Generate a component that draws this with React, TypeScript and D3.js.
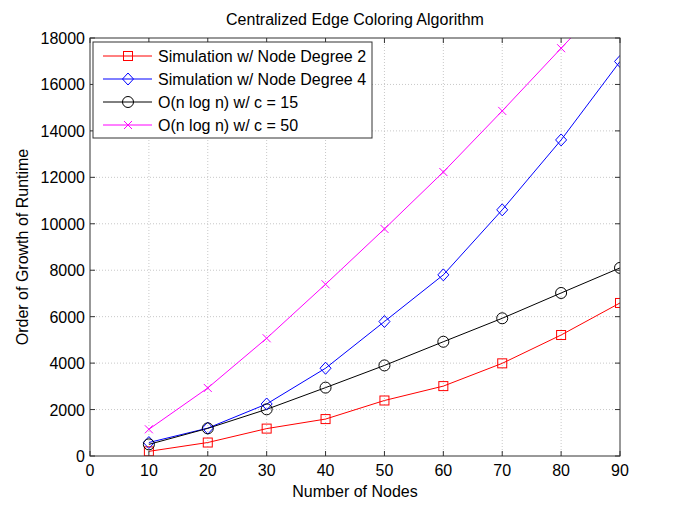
import React from "react";
import * as d3 from "d3";

const nodes = [10, 20, 30, 40, 50, 60, 70, 80, 90];
const simDegree2 = [200, 580, 1180, 1590, 2390, 3010, 3990, 5210, 6590];
const simDegree4 = [580, 1200, 2240, 3780, 5790, 7800, 10600, 13610, 16990];
const nlognC15 = [500, 1190, 2010, 2945, 3900, 4920, 5930, 7020, 8100];
const nlognC50 = [1150, 2930, 5070, 7395, 9780, 12230, 14860, 17560, 20250];

const xTicks = [0, 10, 20, 30, 40, 50, 60, 70, 80, 90];
const yTicks = [0, 2000, 4000, 6000, 8000, 10000, 12000, 14000, 16000, 18000];

const seriesNames = [
  "Simulation w/ Node Degree 2",
  "Simulation w/ Node Degree 4",
  "O(n log n) w/ c = 15",
  "O(n log n) w/ c = 50",
];

const title = "Centralized Edge Coloring Algorithm";
const xLabel = "Number of Nodes";
const yLabel = "Order of Growth of Runtime";

const W = 685;
const H = 513;
const M = { left: 90, right: 620, top: 38, bottom: 456 };
const FONT = "'Liberation Sans', Arial, Helvetica, sans-serif";

type Series = { name: string; values: number[]; color: string; marker: string };

const series: Series[] = [
  { name: seriesNames[0], values: simDegree2, color: "#ff0000", marker: "square" },
  { name: seriesNames[1], values: simDegree4, color: "#0000ff", marker: "diamond" },
  { name: seriesNames[2], values: nlognC15, color: "#000000", marker: "circle" },
  { name: seriesNames[3], values: nlognC50, color: "#ff00ff", marker: "cross" },
];

function Marker({ kind, x, y, color }: { kind: string; x: number; y: number; color: string }) {
  if (kind === "square")
    return <rect x={x - 4.5} y={y - 4.5} width={9} height={9} fill="none" stroke={color} strokeWidth={1} />;
  if (kind === "diamond")
    return (
      <path
        d={`M${x},${y - 6}L${x + 5.5},${y}L${x},${y + 6}L${x - 5.5},${y}Z`}
        fill="none"
        stroke={color}
        strokeWidth={1}
      />
    );
  if (kind === "circle") return <circle cx={x} cy={y} r={5.5} fill="none" stroke={color} strokeWidth={1} />;
  return (
    <path
      d={`M${x - 4},${y - 4}L${x + 4},${y + 4}M${x - 4},${y + 4}L${x + 4},${y - 4}`}
      stroke={color}
      strokeWidth={1}
    />
  );
}

export default function App() {
  const x = d3.scaleLinear().domain([0, 90]).range([M.left, M.right]);
  const y = d3.scaleLinear().domain([0, 18000]).range([M.bottom, M.top]);
  const line = d3
    .line<number>()
    .x((_, i) => x(nodes[i]))
    .y((d) => y(d));

  const tickLen = 5;
  const legend = { x: 93, y: 42, w: 279, h: 96 };

  return (
    <div style={{ position: "absolute", left: 0, top: 0 }}>
      <svg width={W} height={H} style={{ display: "block", background: "#fff" }} fontFamily={FONT}>
        <rect width={W} height={H} fill="#fff" />
        <defs>
          <clipPath id="plotClip">
            <rect x={M.left} y={M.top} width={M.right - M.left} height={M.bottom - M.top} />
          </clipPath>
        </defs>
        {/* grid */}
        {xTicks.slice(1, -1).map((t) => (
          <line
            key={"gx" + t}
            x1={x(t)}
            x2={x(t)}
            y1={M.top}
            y2={M.bottom}
            stroke="#c8c8c8"
            strokeWidth={1}
            strokeDasharray="1,2"
          />
        ))}
        {yTicks.slice(1, -1).map((t) => (
          <line
            key={"gy" + t}
            x1={M.left}
            x2={M.right}
            y1={y(t)}
            y2={y(t)}
            stroke="#c8c8c8"
            strokeWidth={1}
            strokeDasharray="1,2"
          />
        ))}
        {/* series */}
        <g clipPath="url(#plotClip)">
          {series.map((s) => (
            <path key={s.name} d={line(s.values) || ""} fill="none" stroke={s.color} strokeWidth={1} />
          ))}
        </g>
        <g clipPath="url(#plotClip)">
          {series.map((s) =>
            s.values.map((v, i) =>
              v <= 18000 ? (
                <Marker key={s.name + i} kind={s.marker} x={x(nodes[i])} y={y(v)} color={s.color} />
              ) : null
            )
          )}
        </g>
        {/* axes box */}
        <rect
          x={M.left}
          y={M.top}
          width={M.right - M.left}
          height={M.bottom - M.top}
          fill="none"
          stroke="#333"
          strokeWidth={1}
        />
        {xTicks.map((t) => (
          <g key={"xt" + t}>
            <line x1={x(t)} x2={x(t)} y1={M.bottom} y2={M.bottom - tickLen} stroke="#333" />
            <line x1={x(t)} x2={x(t)} y1={M.top} y2={M.top + tickLen} stroke="#333" />
            <text x={x(t)} y={M.bottom + 20} textAnchor="middle" fontSize={16} fill="#000">
              {t}
            </text>
          </g>
        ))}
        {yTicks.map((t) => (
          <g key={"yt" + t}>
            <line x1={M.left} x2={M.left + tickLen} y1={y(t)} y2={y(t)} stroke="#333" />
            <line x1={M.right} x2={M.right - tickLen} y1={y(t)} y2={y(t)} stroke="#333" />
            <text x={M.left - 5} y={y(t) + 6} textAnchor="end" fontSize={16} fill="#000">
              {t}
            </text>
          </g>
        ))}
        {/* labels */}
        <text x={(M.left + M.right) / 2} y={25} textAnchor="middle" fontSize={16} fill="#000">
          {title}
        </text>
        <text x={(M.left + M.right) / 2} y={497} textAnchor="middle" fontSize={16} fill="#000">
          {xLabel}
        </text>
        <text
          transform={`translate(28,${(M.top + M.bottom) / 2}) rotate(-90)`}
          textAnchor="middle"
          fontSize={16}
          fill="#000"
        >
          {yLabel}
        </text>
        {/* legend */}
        <rect x={legend.x} y={legend.y} width={legend.w} height={legend.h} fill="#fff" stroke="#333" strokeWidth={1} />
        {series.map((s, i) => {
          const cy = 56 + i * 23;
          return (
            <g key={"lg" + i}>
              <line x1={103} x2={152} y1={cy} y2={cy} stroke={s.color} strokeWidth={1} />
              <Marker kind={s.marker} x={128} y={cy} color={s.color} />
              <text x={158} y={cy + 6} fontSize={16} fill="#000">
                {s.name}
              </text>
            </g>
          );
        })}
      </svg>
    </div>
  );
}
